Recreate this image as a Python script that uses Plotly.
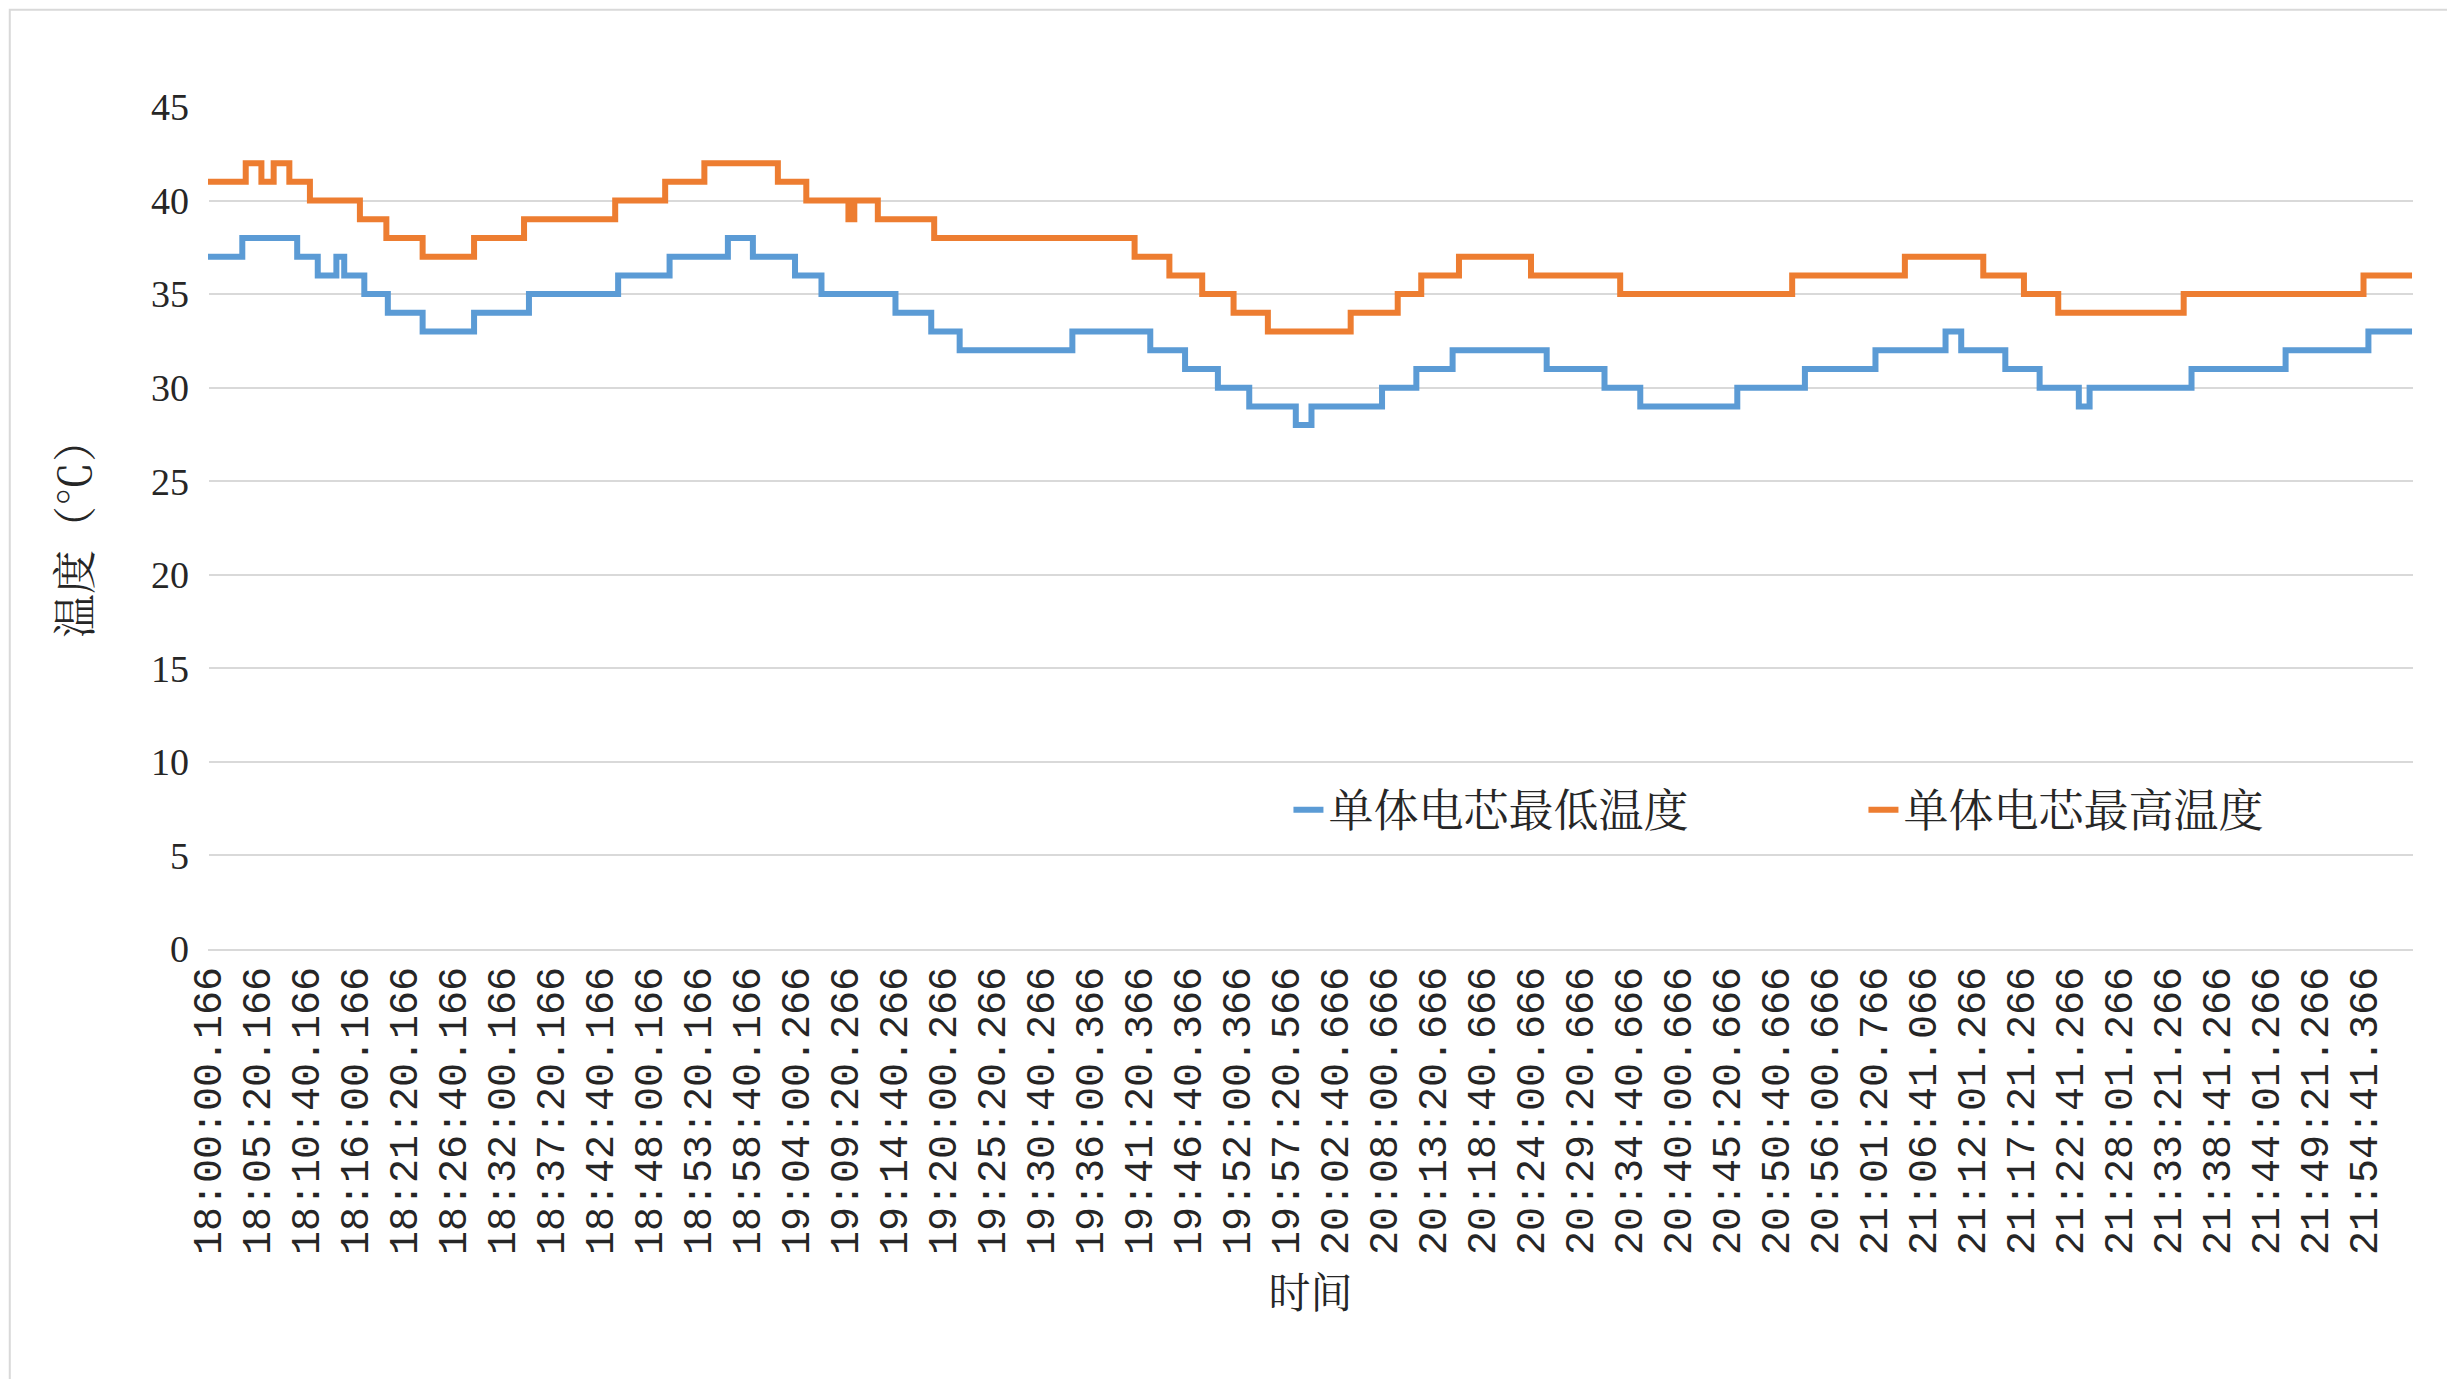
import plotly.graph_objects as go

tick_labels = ["18:00:00.166","18:05:20.166","18:10:40.166","18:16:00.166","18:21:20.166","18:26:40.166",
"18:32:00.166","18:37:20.166","18:42:40.166","18:48:00.166","18:53:20.166","18:58:40.166","19:04:00.266",
"19:09:20.266","19:14:40.266","19:20:00.266","19:25:20.266","19:30:40.266","19:36:00.366","19:41:20.366",
"19:46:40.366","19:52:00.366","19:57:20.566","20:02:40.666","20:08:00.666","20:13:20.666","20:18:40.666",
"20:24:00.666","20:29:20.666","20:34:40.666","20:40:00.666","20:45:20.666","20:50:40.666","20:56:00.666",
"21:01:20.766","21:06:41.066","21:12:01.266","21:17:21.266","21:22:41.266","21:28:01.266","21:33:21.266",
"21:38:41.266","21:44:01.266","21:49:21.266","21:54:41.366"]
tick_pos = list(range(len(tick_labels)))

# step change points (x in label-interval units)
min_x = [0,0.70,1.82,2.24,2.62,2.78,3.19,3.67,4.38,5.43,6.55,8.37,9.42,10.61,11.12,11.98,12.52,14.03,14.76,15.34,
         17.64,19.23,19.94,20.61,21.25,22.20,22.52,23.96,24.66,25.40,27.32,28.50,29.23,31.21,32.59,34.03,35.46,
         35.78,36.68,37.38,38.18,38.40,40.48,42.40,44.09,44.98]
min_y = [37,38,37,36,37,36,35,34,33,34,35,36,37,38,37,36,35,34,33,32,
         33,32,31,30,29,28,29,30,31,32,31,30,29,30,31,32,33,
         32,31,30,29,30,31,32,33,33]
max_x = [0,0.77,1.09,1.34,1.66,2.08,3.10,3.64,4.38,5.43,6.45,8.31,9.33,10.13,11.63,12.21,13.07,13.19,13.67,14.82,
         18.91,19.62,20.29,20.93,21.63,23.32,24.28,24.76,25.53,27.00,28.82,32.33,34.63,36.23,37.06,37.76,40.32,
         43.99,44.98]
max_y = [41,42,41,42,41,40,39,38,37,38,39,40,41,42,41,40,39,40,39,38,
         37,36,35,34,33,34,35,36,37,36,35,36,37,36,35,34,35,
         36,36]

font = "Liberation Serif, Noto Serif CJK SC, Noto Sans CJK SC, serif"
fig = go.Figure()
fig.add_trace(go.Scatter(x=min_x, y=min_y, mode="lines", line=dict(color="#5B9BD5", width=6, shape="hv"),
                         name="单体电芯最低温度"))
fig.add_trace(go.Scatter(x=max_x, y=max_y, mode="lines", line=dict(color="#ED7D31", width=6, shape="hv"),
                         name="单体电芯最高温度"))
fig.update_layout(
    width=2455, height=1379, plot_bgcolor="white", paper_bgcolor="white",
    margin=dict(l=200, r=50, t=99, b=438),
    font=dict(family=font, size=37, color="#262626"),
    legend=dict(orientation="h", x=0.49, y=0.165, xanchor="left", yanchor="middle",
                font=dict(size=45), bgcolor="rgba(0,0,0,0)", entrywidth=530, entrywidthmode="pixels"),
    xaxis=dict(range=[0,45], tickmode="array", tickvals=tick_pos, ticktext=tick_labels, tickangle=-90,
               showgrid=False, showline=True, linecolor="#D9D9D9", linewidth=2, ticks="",
               tickfont=dict(size=40, family="Liberation Mono, DejaVu Sans Mono, monospace"),
               title=dict(text="时间", font=dict(size=42), standoff=25)),
    yaxis=dict(range=[0,45], dtick=5, gridcolor="#D9D9D9", gridwidth=2, zeroline=False, ticks="",
               ticklabelstandoff=18, tickfont=dict(size=38),
               title=dict(text="温度（℃）", font=dict(size=44), standoff=45)),
    shapes=[dict(type="rect", xref="paper", yref="paper", x0=-0.0899, x1=1.0215, y0=-0.5175, y1=1.1155,
                 line=dict(color="#D9D9D9", width=2))],
)
fig.write_html("out.html")
